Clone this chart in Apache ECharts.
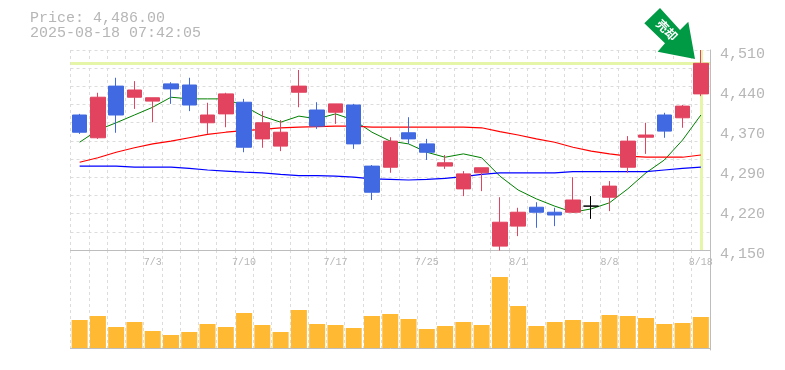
<!DOCTYPE html>
<html><head><meta charset="utf-8">
<style>html,body{margin:0;padding:0;background:#fff}#c{width:785px;height:370px}</style>
<script src="https://cdn.jsdelivr.net/npm/echarts@6/dist/echarts.min.js"></script>
</head><body><div id="c"></div>
<script>
const categories=['6/27','6/30','7/1','7/2','7/3','7/4','7/7','7/8','7/9','7/10','7/11','7/14','7/15','7/16','7/17','7/18','7/22','7/23','7/24','7/25','7/28','7/29','7/30','7/31','8/1','8/4','8/5','8/6','8/7','8/8','8/12','8/13','8/14','8/15','8/18'];
const opens=[4393,4352,4445,4425,4418,4449,4447,4379,4395,4416,4350,4337,4434,4402,4398,4411,4301,4299,4361,4341,4301,4260,4289,4157,4193,4227,4218,4218,4229,4245,4299,4353,4393,4388,4431];
const closes=[4362,4425,4393,4438,4424,4440,4411,4393,4431,4335,4379,4362,4445,4373,4413,4341,4254,4346,4350,4326,4307,4287,4298,4200,4218,4218,4213,4240,4229,4265,4346,4357,4364,4409,4486];
const lows=[4359,4350,4361,4404,4380,4413,4400,4359,4371,4326,4334,4328,4407,4368,4377,4332,4240,4289,4341,4312,4296,4247,4256,4149,4175,4190,4193,4218,4206,4220,4289,4323,4352,4370,4427];
const highs=[4395,4433,4460,4454,4424,4452,4460,4415,4433,4422,4400,4384,4474,4416,4413,4413,4303,4353,4389,4350,4321,4292,4298,4245,4226,4236,4226,4281,4247,4274,4355,4379,4397,4411,4510];
const maShort=[4344,4366,4379,4393,4407,4425,4422,4422,4422,4409,4391,4380,4391,4386,4395,4384,4362,4346,4341,4326,4317,4323,4316,4283,4258,4242,4229,4218,4224,4235,4260,4289,4312,4348,4393];
const maMid=[4308,4316,4326,4334,4341,4346,4352,4358,4362,4365,4367,4370,4371,4372,4373,4373,4371,4371,4371,4371,4371,4371,4370,4363,4357,4350,4344,4335,4328,4323,4319,4317,4317,4317,4321];
const maLong=[4301,4301,4301,4299,4299,4299,4297,4294,4292,4290,4289,4286,4284,4284,4283,4281,4278,4277,4276,4277,4279,4282,4286,4289,4289,4289,4289,4291,4291,4291,4291,4291,4294,4297,4299];
const volumes=[28,32,21,26,17,13,16,24,21,35,23,16,38,24,23,20,32,34,29,19,22,26,23,71,42,22,26,28,26,33,32,30,24,25,31];
const priceTicks=[4150,4222,4294,4366,4438,4510];
const priceTickLabels=['4,150','4,220','4,290','4,370','4,440','4,510'];
const lastPrice=4486, lastCategory='8/18';
const titleLines=['Price: 4,486.00','2025-08-18 07:42:05'];
const badge='売却';

const GRID='#dcdcdc', AXIS='#bdbdbd', TXT='#b6b6b6', MONO='"Liberation Mono","DejaVu Sans Mono",monospace';
const dash={color:GRID,width:1,type:[3,3]};
const chart=echarts.init(document.getElementById('c'),null,{renderer:'canvas'});
chart.setOption({
  animation:false,
  backgroundColor:'#fff',
  title:{text:titleLines.join('\n'),left:30,top:11,padding:0,textStyle:{fontFamily:MONO,fontSize:15,fontWeight:'normal',color:TXT,lineHeight:15}},
  grid:[{left:70.5,top:50,width:639.5,height:200},{left:70.5,top:250,width:639.5,height:100}],
  xAxis:[
    {type:'category',gridIndex:0,data:categories,boundaryGap:true,
     axisLine:{show:true,lineStyle:{color:AXIS,width:1}},axisTick:{show:false},
     axisLabel:{show:true,interval:(i)=>i%5===4,margin:7,fontFamily:MONO,fontSize:10,color:TXT,hideOverlap:false},
     splitLine:{show:true,interval:0,lineStyle:dash}},
    {type:'category',gridIndex:1,data:categories,boundaryGap:true,
     axisLine:{show:true,lineStyle:{color:AXIS,width:1}},axisTick:{show:false},axisLabel:{show:false},
     splitLine:{show:true,interval:0,lineStyle:dash}}
  ],
  yAxis:[
    {type:'value',gridIndex:0,position:'right',min:4150,max:4510,
     axisLine:{show:true,lineStyle:{color:AXIS,width:1}},axisTick:{show:false},splitLine:{show:false},
     axisLabel:{show:true,customValues:priceTicks,margin:10,fontFamily:MONO,fontSize:15,color:TXT,verticalAlign:'top',lineHeight:8,
       formatter:(v)=>priceTickLabels[priceTicks.indexOf(v)]}},
    {type:'value',gridIndex:0,position:'left',min:0,max:11,interval:1,
     axisLine:{show:false},axisTick:{show:false},axisLabel:{show:false},splitLine:{show:true,lineStyle:dash}},
    {type:'value',gridIndex:1,position:'right',min:-2,max:98,
     axisLine:{show:true,lineStyle:{color:AXIS,width:1}},axisTick:{show:false},axisLabel:{show:false},splitLine:{show:false}}
  ],
  series:[
    {type:'line',name:'short',data:maShort,xAxisIndex:0,yAxisIndex:0,showSymbol:false,z:3,lineStyle:{color:'#008000',width:1},
     markLine:{silent:true,symbol:'none',z:1,label:{show:false},lineStyle:{color:'#e6f6a8',width:3,type:'solid'},
       data:[{yAxis:lastPrice},{xAxis:lastCategory}]}},
    {type:'line',name:'mid',data:maMid,xAxisIndex:0,yAxisIndex:0,showSymbol:false,z:3,lineStyle:{color:'#ff0000',width:1.2}},
    {type:'line',name:'long',data:maLong,xAxisIndex:0,yAxisIndex:0,showSymbol:false,z:3,lineStyle:{color:'#0000ff',width:1.2}},
    {type:'candlestick',name:'price',xAxisIndex:0,yAxisIndex:0,z:4,barWidth:15,clip:false,
     data:categories.map((c,i)=>[opens[i],closes[i],lows[i],highs[i]]),
     itemStyle:{color:'#e2435f',color0:'#4169e1',borderColor:'#e2435f',borderColor0:'#4169e1',borderColorDoji:'#000000',borderWidth:1}},
    {type:'bar',name:'volume',xAxisIndex:1,yAxisIndex:2,data:volumes,barWidth:16,z:2,itemStyle:{color:'#ffb933'}}
  ],
  graphic:[
    {type:'polygon',z:100,silent:true,shape:{points:[[660,8],[644.3,23.3],[665,43.3],[657.7,51.7],[695,59],[688.3,21.7],[680,30]]},style:{fill:'#009944'}},
    {type:'text',z:101,silent:true,x:667,y:30,rotation:-Math.PI/4,style:{text:badge,fill:'#fff',fontSize:12,fontWeight:'bold',fontFamily:'"Noto Sans CJK JP"',align:'center',verticalAlign:'middle'}}
  ]
});
</script></body></html>
